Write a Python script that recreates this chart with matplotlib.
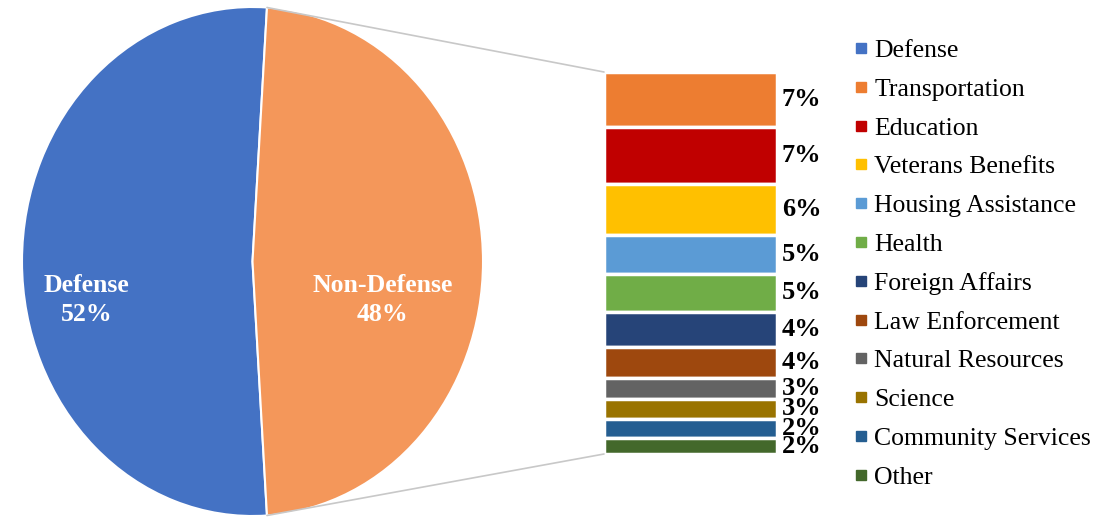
import numpy as np
import matplotlib
matplotlib.use("Agg")
import matplotlib.pyplot as plt
from matplotlib.lines import Line2D
from matplotlib.patches import ConnectionPatch

# ---- data ----
main_labels = ["Defense", "Non-Defense"]
main_values = [52, 48]
main_pct = ["52%", "48%"]
main_colors = ["#4472C4", "#F4975A"]

sub_categories = ["Transportation", "Education", "Veterans Benefits", "Housing Assistance",
                  "Health", "Foreign Affairs", "Law Enforcement", "Natural Resources",
                  "Science", "Community Services", "Other"]
sub_values = [6.9, 7.1, 6.4, 4.9, 4.8, 4.4, 3.9, 2.6, 2.5, 2.4, 2.0]
sub_pct = ["7%", "7%", "6%", "5%", "5%", "4%", "4%", "3%", "3%", "2%", "2%"]
sub_colors = ["#ED7D31", "#C00000", "#FFC000", "#5B9BD5", "#70AD47", "#264478",
              "#9E480E", "#636363", "#997300", "#255E91", "#43682B"]

W, H = 1119, 520
fig = plt.figure(figsize=(W / 100, H / 100), dpi=100)
fig.patch.set_facecolor("white")
SERIF = ["Liberation Serif", "DejaVu Serif"]


def fig_rect(x0, y0, x1, y1):
    return [x0 / W, 1 - y1 / H, (x1 - x0) / W, (y1 - y0) / H]


# ---- pie (elliptical) ----
axp = fig.add_axes(fig_rect(22, 7, 483, 516))
start = 90 - (main_values[0] - 50) / 100 * 180
wedges, _ = axp.pie(main_values, colors=main_colors, startangle=start, counterclock=True,
                    wedgeprops=dict(edgecolor="white", linewidth=1.5), radius=1)
axp.set_aspect("auto")
axp.set_xlim(-1, 1)
axp.set_ylim(-1, 1)
axp.axis("off")
label_r = [0.72, 0.565]
for w, lab, pct, r in zip(wedges, main_labels, main_pct, label_r):
    th = np.deg2rad((w.theta1 + w.theta2) / 2)
    axp.text(r * np.cos(th), r * np.sin(th) - 0.152, f"{lab}\n{pct}",
             ha="center", va="center", color="white", fontsize=18.5, fontweight="bold",
             family=SERIF, linespacing=1.32)

# ---- stacked bar ----
axb = fig.add_axes(fig_rect(604, 72, 777, 454))
bottoms = np.concatenate([[0], np.cumsum(sub_values)[:-1]])
axb.bar(0, sub_values, bottom=bottoms, width=1, color=sub_colors,
        edgecolor="white", linewidth=2.5)
axb.set_xlim(-0.5, 0.5)
axb.set_ylim(sum(sub_values), 0)
axb.axis("off")
for b, v, p in zip(bottoms, sub_values, sub_pct):
    axb.annotate(p, xy=(0.5, b + v / 2), xytext=(3.5, 0), textcoords="offset points",
                 ha="left", va="center", fontsize=19, fontweight="bold", family=SERIF,
                 color="black", annotation_clip=False)

# ---- connector lines ----
a0 = np.deg2rad(wedges[1].theta2)
a1 = np.deg2rad(wedges[1].theta1)
for ang, yb in [(a0, 0), (a1, sum(sub_values))]:
    con = ConnectionPatch(xyA=(np.cos(ang), np.sin(ang)), coordsA=axp.transData,
                          xyB=(-0.5, yb), coordsB=axb.transData,
                          color="#C8C8C8", linewidth=1.2)
    fig.add_artist(con)

# ---- legend ----
leg_names = [main_labels[0]] + sub_categories
leg_colors = [main_colors[0]] + sub_colors
handles = [Line2D([], [], marker="s", linestyle="none", markersize=7,
                  markerfacecolor=c, markeredgecolor=c) for c in leg_colors]
fig.legend(handles, leg_names, loc="upper left",
           bbox_to_anchor=(855 / W, 1 - 39 / H), frameon=False,
           prop=dict(family=SERIF, size=18.5), handlelength=0.5, handletextpad=0.25,
           labelspacing=0.615, borderpad=0, borderaxespad=0)

fig.savefig("out.png", dpi=100, facecolor="white")
